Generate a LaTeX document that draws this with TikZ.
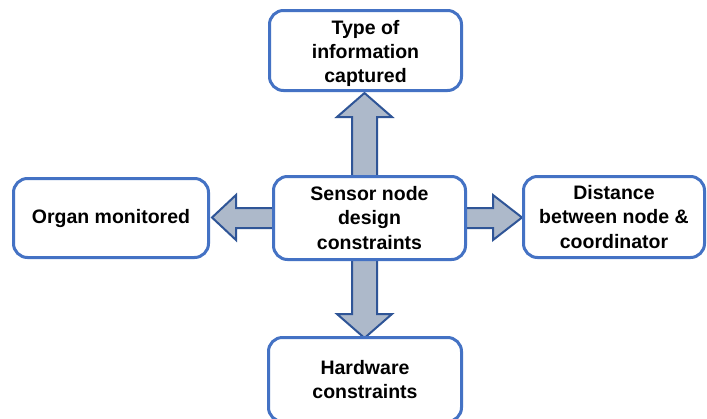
\documentclass[tikz,border=0pt]{standalone}
\usepackage{fontspec}
\setmainfont{Liberation Sans}
\definecolor{boxblue}{HTML}{4472C4}
\definecolor{arrfill}{HTML}{ADB9CA}
\definecolor{arrline}{HTML}{2F5597}
\begin{document}
\begin{tikzpicture}[x=1pt,y=-1pt,
 boxtext/.style={align=center, font=\bfseries\fontsize{19.5}{24.2}\selectfont, inner sep=0pt},
 box/.style={boxtext, draw=boxblue, line width=3pt, rounded corners=14pt, fill=white},
 blockarrow/.style={draw=arrline, line width=2pt, fill=arrfill, line join=miter}]
\useasboundingbox (0,0) rectangle (707,418);
\clip (0,0) rectangle (707,418);
\fill[white] (0,0) rectangle (707,418);
% block arrows
\draw[blockarrow] (352,176) -- (352,117) -- (337,117) -- (364.5,93) -- (392,117) -- (377,117) -- (377,176) -- cycle;
\draw[blockarrow] (352,258) -- (352,314) -- (337,314) -- (364.5,338) -- (392,314) -- (377,314) -- (377,258) -- cycle;
\draw[blockarrow] (274,208) -- (236,208) -- (236,195) -- (212,217.5) -- (236,240) -- (236,228) -- (274,228) -- cycle;
\draw[blockarrow] (465,208) -- (493,208) -- (493,195) -- (522,217.5) -- (493,240) -- (493,228) -- (465,228) -- cycle;
% boxes
\node[box, minimum width=192pt, minimum height=80pt,
  label={[boxtext, yshift=-3pt]center:Type of\\information\\captured}] (top) at (365.5,50.5) {};
\node[box, minimum width=192pt, minimum height=83pt] (center) at (369.5,218) {Sensor node\\design\\constraints};
\node[box, minimum width=195pt, minimum height=79pt] (left) at (111,218) {Organ monitored};
\node[box, minimum width=181pt, minimum height=81pt] (right) at (614,217) {Distance\\between node \&\\coordinator};
\node[box, minimum width=193pt, minimum height=84pt] (bottom) at (365,379.5) {Hardware\\constraints};
\end{tikzpicture}
\end{document}
